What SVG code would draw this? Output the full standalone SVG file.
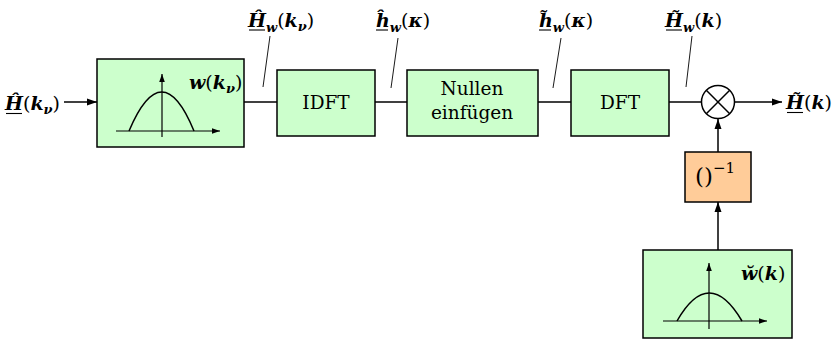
<svg xmlns="http://www.w3.org/2000/svg" width="833" height="339" viewBox="0 0 833 339">
<defs>
<style>
.box{fill:#ccffcc;stroke:#000;stroke-width:1.5}
.obox{fill:#ffcc99;stroke:#000;stroke-width:1.5}
.ln{stroke:#000;stroke-width:1.5;fill:none}
.thin{stroke:#000;stroke-width:0.9;fill:none}
.ax{stroke:#000;stroke-width:1.2;fill:none}
.t{font-family:"DejaVu Serif","Liberation Serif",serif;font-size:18.5px;fill:#000}
.m{font-family:"DejaVu Serif","Liberation Serif",serif;font-size:19px;font-style:italic;font-weight:bold;fill:#000}
tspan.r{font-style:normal;font-weight:normal}
.ul{stroke:#000;stroke-width:1.1}
</style>
<marker id="ah" viewBox="0 0 10 10" refX="10" refY="5" markerWidth="10" markerHeight="10" markerUnits="userSpaceOnUse" orient="auto">
<path d="M0,1.5 L10,5 L0,8.5 z" fill="#000"/>
</marker>
<marker id="ahs" viewBox="0 0 10 10" refX="10" refY="5" markerWidth="8" markerHeight="8" markerUnits="userSpaceOnUse" orient="auto">
<path d="M0,1.5 L10,5 L0,8.5 z" fill="#000"/>
</marker>
</defs>

<g id="connectors">
<line class="ln" x1="64" y1="102" x2="97" y2="102" marker-end="url(#ah)"/>
<line class="ln" x1="244" y1="102" x2="277" y2="102"/>
<line class="ln" x1="375" y1="102" x2="407" y2="102"/>
<line class="ln" x1="538" y1="102" x2="571" y2="102"/>
<line class="ln" x1="669" y1="102" x2="701" y2="102"/>
<line class="ln" x1="734" y1="102" x2="782" y2="102" marker-end="url(#ah)"/>
<line class="ln" x1="718" y1="152" x2="718" y2="119" marker-end="url(#ah)"/>
<line class="ln" x1="718" y1="250" x2="718" y2="202" marker-end="url(#ah)"/>
<line class="thin" x1="270" y1="36" x2="263" y2="87"/>
<line class="thin" x1="398" y1="38" x2="391" y2="88"/>
<line class="thin" x1="561" y1="38" x2="553" y2="88"/>
<line class="thin" x1="692" y1="36" x2="686" y2="87"/>
</g>

<g id="window1">
<rect class="box" x="97" y="59" width="147" height="88"/>
<line class="ax" x1="116" y1="131" x2="220" y2="131" marker-end="url(#ahs)"/>
<line class="ax" x1="162" y1="137" x2="162" y2="74" marker-end="url(#ahs)"/>
<path class="ln" d="M129,131 Q162,53 194,131"/>
<text class="m" x="189" y="89">w<tspan class="r">(</tspan>k<tspan style="font-size:13px" dy="4">ν</tspan><tspan class="r" dy="-4">)</tspan></text>
</g>

<g id="idft">
<rect class="box" x="277" y="70" width="98" height="66"/>
<text class="t" x="326" y="109" text-anchor="middle">IDFT</text>
</g>

<g id="nullen">
<rect class="box" x="407" y="70" width="131" height="66"/>
<text class="t" x="472" y="95" text-anchor="middle">Nullen</text>
<text class="t" x="472" y="119" text-anchor="middle">einfügen</text>
</g>

<g id="dft">
<rect class="box" x="571" y="70" width="98" height="66"/>
<text class="t" x="620" y="109" text-anchor="middle">DFT</text>
</g>

<g id="mult">
<circle class="ln" cx="718" cy="102" r="16.5" fill="#fff"/>
<line class="ln" x1="706.3" y1="90.3" x2="729.7" y2="113.7"/>
<line class="ln" x1="729.7" y1="90.3" x2="706.3" y2="113.7"/>
</g>

<g id="inverse">
<rect class="obox" x="685" y="152" width="66" height="50"/>
<text class="t" x="695" y="184" style="font-size:23px">()<tspan style="font-size:15px" dy="-11">−1</tspan></text>
</g>

<g id="window2">
<rect class="box" x="643" y="250" width="149" height="88"/>
<line class="ax" x1="663" y1="321" x2="767" y2="321" marker-end="url(#ahs)"/>
<line class="ax" x1="709" y1="329" x2="709" y2="263" marker-end="url(#ahs)"/>
<path class="ln" d="M677,321 Q709,265 742,321"/>
<text class="m" x="741" y="280">w̆<tspan class="r">(</tspan>k<tspan class="r">)</tspan></text>
</g>

<g id="labels">
<text class="m" x="5" y="110">Ĥ<tspan class="r">(</tspan>k<tspan style="font-size:13px" dy="4">ν</tspan><tspan class="r" dy="-4">)</tspan></text>
<line class="ul" x1="6" y1="113.5" x2="22" y2="113.5"/>

<text class="m" x="248" y="27">Ĥ<tspan style="font-size:13px" dy="5">w</tspan><tspan class="r" dy="-5">(</tspan>k<tspan style="font-size:13px" dy="4">ν</tspan><tspan class="r" dy="-4">)</tspan></text>
<line class="ul" x1="249" y1="30" x2="265" y2="30"/>

<text class="m" x="376" y="27">ĥ<tspan style="font-size:13px" dy="5">w</tspan><tspan class="r" dy="-5">(</tspan>κ<tspan class="r">)</tspan></text>
<line class="ul" x1="376" y1="30" x2="388" y2="30"/>

<text class="m" x="539" y="27">h̃<tspan style="font-size:13px" dy="5">w</tspan><tspan class="r" dy="-5">(</tspan>κ<tspan class="r">)</tspan></text>
<line class="ul" x1="539" y1="30" x2="551" y2="30"/>

<text class="m" x="665" y="27">H̃<tspan style="font-size:13px" dy="5">w</tspan><tspan class="r" dy="-5">(</tspan>k<tspan class="r">)</tspan></text>
<line class="ul" x1="666" y1="30" x2="682" y2="30"/>

<text class="m" x="786" y="109">H̃<tspan class="r">(</tspan>k<tspan class="r">)</tspan></text>
<line class="ul" x1="787" y1="112.5" x2="803" y2="112.5"/>
</g>
</svg>
